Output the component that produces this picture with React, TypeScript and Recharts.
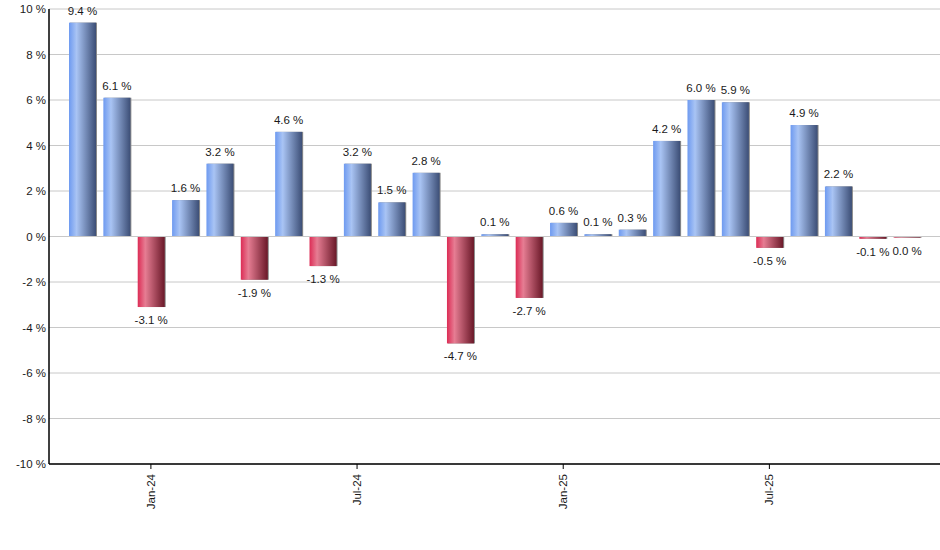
import { BarChart, Bar, XAxis, YAxis, CartesianGrid, LabelList, ReferenceLine } from "recharts";

const MONTHS = [
  "Nov-23", "Dec-23", "Jan-24", "Feb-24", "Mar-24", "Apr-24", "May-24", "Jun-24",
  "Jul-24", "Aug-24", "Sep-24", "Oct-24", "Nov-24", "Dec-24", "Jan-25", "Feb-25",
  "Mar-25", "Apr-25", "May-25", "Jun-25", "Jul-25", "Aug-25", "Sep-25", "Oct-25",
  "Nov-25",
];

const CHANGES = [
  9.4, 6.1, -3.1, 1.6, 3.2, -1.9, 4.6, -1.3, 3.2, 1.5, 2.8, -4.7, 0.1, -2.7, 0.6,
  0.1, 0.3, 4.2, 6.0, 5.9, -0.5, 4.9, 2.2, -0.1, -0.048,
];

const X_TICKS = ["Jan-24", "Jul-24", "Jan-25", "Jul-25"];
const Y_TICKS = [-10, -8, -6, -4, -2, 0, 2, 4, 6, 8, 10];

const data = MONTHS.map((month, i) => ({ month, change: CHANGES[i] }));

const FONT = "Arial, 'Liberation Sans', sans-serif";
const FS = 11.5;

function fmtPct(v: number): string {
  const s = v.toFixed(1);
  return (s === "-0.0" ? "0.0" : s) + " %";
}

function GradientBar(props: any) {
  const { x, y, width, height, payload } = props;
  const top = Math.min(y, y + height);
  const h = Math.abs(height);
  const neg = payload.change < 0;
  return (
    <g>
      <rect x={x + 1} y={top} width={width} height={h} fill="#8a8a8a" />
      <rect x={x} y={top} width={width} height={h} fill={neg ? "url(#redGrad)" : "url(#blueGrad)"} />
    </g>
  );
}

function BarLabel(props: any) {
  const { x, y, width, height, value } = props;
  const top = Math.min(y, y + height);
  const bottom = Math.max(y, y + height);
  const ty = value < 0 ? bottom + 17 : top - 8;
  return (
    <text x={x + width / 2} y={ty} textAnchor="middle" fontSize={FS} fontFamily={FONT} fill="#1a1a1a">
      {fmtPct(value)}
    </text>
  );
}

function XTick(props: any) {
  const { x, y, payload } = props;
  return (
    <text
      x={x}
      y={y}
      transform={`rotate(-90 ${x} ${y})`}
      dx={-3}
      dy={4}
      textAnchor="end"
      fontSize={FS}
      fontFamily={FONT}
      fill="#1a1a1a"
    >
      {payload.value}
    </text>
  );
}

export default function App() {
  return (
    <div style={{ position: "absolute", left: 0, top: 0, background: "#fff" }}>
      <BarChart
        width={940}
        height={550}
        data={data}
        margin={{ top: 9, right: 0, left: 0, bottom: 0 }}
        barSize={27}
      >
        <defs>
          <linearGradient id="blueGrad" x1="0" y1="0" x2="1" y2="0">
            <stop offset="0%" stopColor="#6e9af0" />
            <stop offset="28%" stopColor="#a9c4f4" />
            <stop offset="100%" stopColor="#3c4e76" />
          </linearGradient>
          <linearGradient id="redGrad" x1="0" y1="0" x2="1" y2="0">
            <stop offset="0%" stopColor="#dc2c55" />
            <stop offset="28%" stopColor="#e67d93" />
            <stop offset="100%" stopColor="#6a1828" />
          </linearGradient>
        </defs>
        <CartesianGrid vertical={false} stroke="#c8c8c8" strokeWidth={1} />
        <XAxis
          dataKey="month"
          ticks={X_TICKS}
          interval={0}
          height={86}
          padding={{ left: 16, right: 16 }}
          axisLine={{ stroke: "#000", strokeWidth: 1.5 }}
          tickLine={{ stroke: "#000" }}
          tickSize={5}
          tick={<XTick />}
        />
        <YAxis
          domain={[-10, 10]}
          ticks={Y_TICKS}
          interval={0}
          width={49}
          tickFormatter={(v: number) => v + " %"}
          axisLine={{ stroke: "#000", strokeWidth: 1.5 }}
          tickLine={false}
          tickSize={0}
          tickMargin={3}
          tick={{ fontSize: FS, fontFamily: FONT, fill: "#1a1a1a" }}
        />
        <ReferenceLine y={0} stroke="#c8c8c8" />
        <Bar dataKey="change" shape={<GradientBar />} isAnimationActive={false}>
          <LabelList dataKey="change" content={<BarLabel />} />
        </Bar>
      </BarChart>
    </div>
  );
}
